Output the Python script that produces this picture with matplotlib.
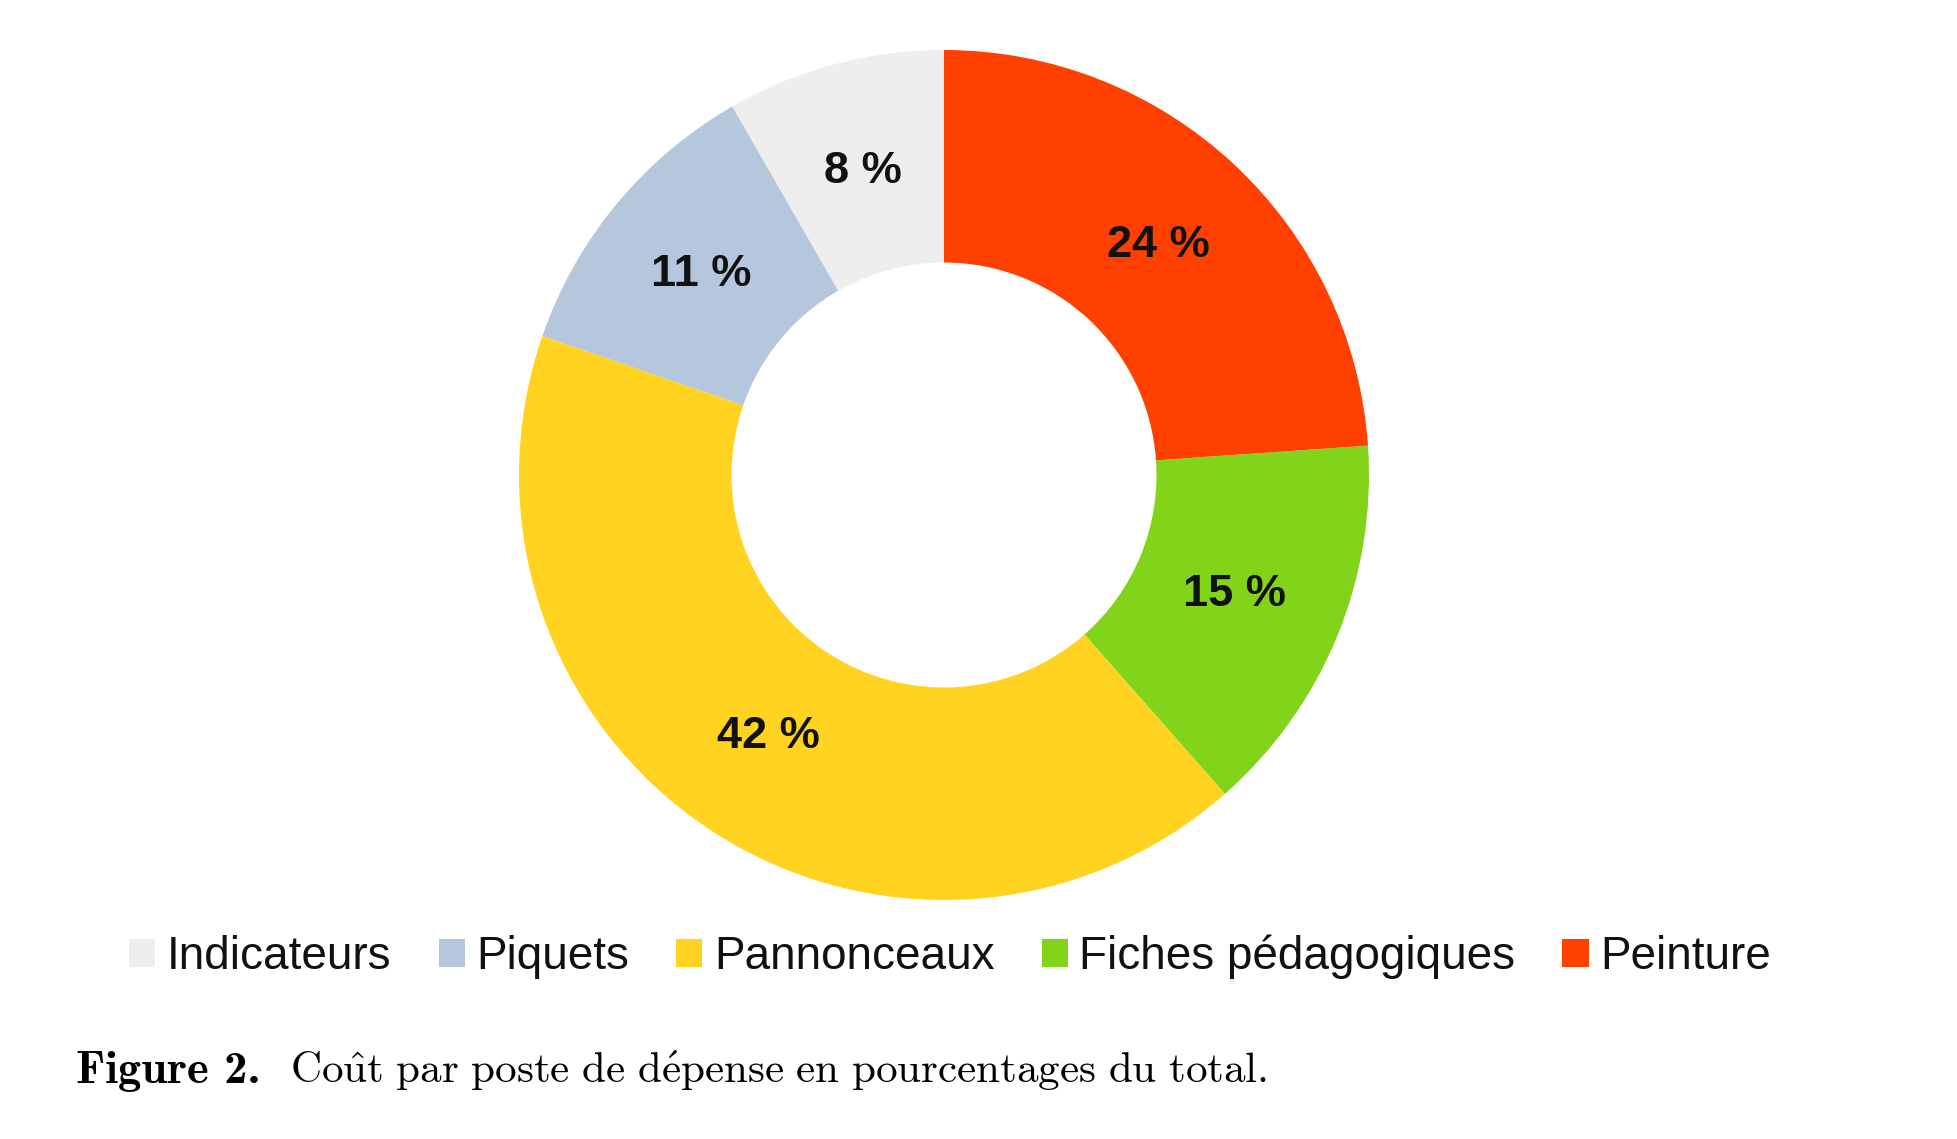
import matplotlib
matplotlib.use('Agg')
import matplotlib.pyplot as plt

# donnees
postes = ['Indicateurs', 'Piquets', 'Pannonceaux', 'Fiches pédagogiques', 'Peinture']
pourcentages = [8.3, 11.4, 41.8, 14.6, 23.9]
couleurs = ['#eeeeee', '#b4c7dc', '#ffd320', '#81d41a', '#ff4000']

plt.rcParams['mathtext.fontset'] = 'cm'

W, H = 1958, 1139
fig = plt.figure(figsize=(W / 100, H / 100), dpi=100)

# anneau : centre (944, 475) px, rayon 425 px
cx, cy, r = 944, 475, 425
ax = fig.add_axes([(cx - r) / W, (H - cy - r) / H, 2 * r / W, 2 * r / H])
parts, _, textes = ax.pie(pourcentages, colors=couleurs, startangle=90, counterclock=True,
                          wedgeprops=dict(width=0.5, linewidth=0),
                          autopct=lambda p: f'{p:.0f} %', pctdistance=0.74,
                          textprops=dict(fontsize=32.5, fontweight='bold',
                                         family='Liberation Sans', color='#111111'))
ax.set_xlim(-1, 1)
ax.set_ylim(-1, 1)
ax.set_aspect('equal')

fig.legend(parts, postes, loc='center', bbox_to_anchor=(950 / W, 1 - 957 / H), ncol=5,
           frameon=False, prop=dict(family='Liberation Sans', size=33),
           handlelength=0.57, handleheight=0.57, handletextpad=0.25,
           columnspacing=1.03, borderaxespad=0, labelcolor='#111111')

# legende de la figure
fig.text(76 / W, 1 - 1083 / H, 'Figure 2.', family='cmb10', fontsize=33.5, va='baseline')
fig.text(290 / W, 1 - 1083 / H,
         r'$\mathrm{Co\hat{u}t\ par\ poste\ de\ d\acute{e}pense\ en\ pourcentages\ du\ total.}$',
         fontsize=31, va='baseline')

fig.savefig('out.png', dpi=100)
